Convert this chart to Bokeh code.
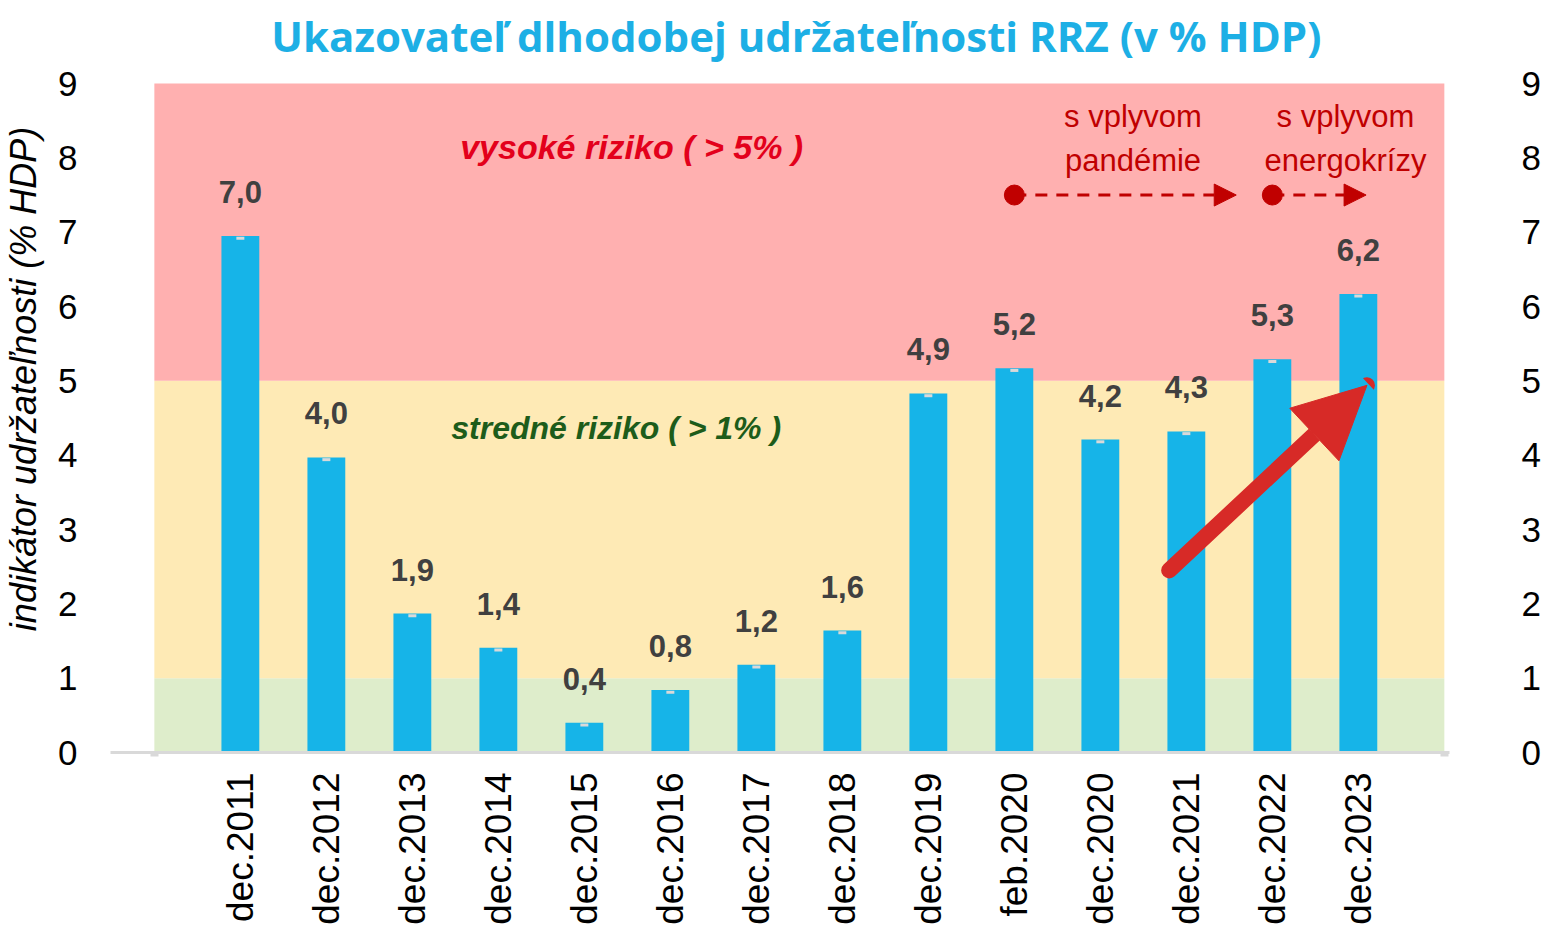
import math
from bokeh.plotting import figure
from bokeh.models import LinearAxis, FixedTicker, Range1d, Arrow, NormalHead
from bokeh.core.properties import value
from bokeh.embed import file_html
from bokeh.resources import INLINE

# ---- data ----
categories = ["dec.2011", "dec.2012", "dec.2013", "dec.2014", "dec.2015", "dec.2016",
              "dec.2017", "dec.2018", "dec.2019", "feb.2020", "dec.2020", "dec.2021",
              "dec.2022", "dec.2023"]
values = [6.95, 3.97, 1.87, 1.41, 0.40, 0.84, 1.18, 1.64, 4.83, 5.17, 4.21, 4.32, 5.29, 6.17]
value_labels = ["7,0", "4,0", "1,9", "1,4", "0,4", "0,8", "1,2", "1,6", "4,9", "5,2",
                "4,2", "4,3", "5,3", "6,2"]
zone_bounds = [0, 1, 5, 9]
zone_colors = ["#DEEDCB", "#FEEAB5", "#FFB0B0"]
y_ticks = list(range(0, 10))

title_text = "Ukazovateľ dlhodobej udržateľnosti RRZ (v % HDP)"
zone_texts = ["vysoké riziko ( > 5% )", "stredné riziko ( > 1% )"]
event_lines = ["s vplyvom", "pandémie", "s vplyvom", "energokrízy"]

xs = list(range(1, len(categories) + 1))
n_slots = len(categories) + 1

FONT = "Liberation Sans"

# frame spans the title area too; zones/ticks stop at 9
p = figure(frame_width=1339, frame_height=747,
           x_range=Range1d(-0.51, 15.06), y_range=Range1d(0, 10.05),
           output_backend="svg", toolbar_location=None,
           min_border_left=110, min_border_right=88, min_border_top=5, min_border_bottom=168)
p.background_fill_color = "white"
p.border_fill_color = "white"
p.outline_line_color = None
p.xgrid.visible = False
p.ygrid.visible = False

# zones
p.quad(left=0, right=n_slots, bottom=zone_bounds[:-1], top=zone_bounds[1:],
       fill_color=zone_colors, line_color=None)

# bars
p.vbar(x=xs, top=values, width=0.44, fill_color="#16B4E8", line_color=None)
p.rect(x=xs, y=[v - 0.03 for v in values], width=8, height=3,
       width_units="screen", height_units="screen", fill_color="#D9D9D9", line_color=None)

# value labels
p.text(x=xs, y=values, text=value_labels, y_offset=-33, text_baseline="bottom",
       text_align="center", text_font=value(FONT), text_font_style="bold",
       text_font_size="31px", text_color="#404040")

# zone texts
p.text(x=[5.55], y=[8.14], text=[zone_texts[0]], text_font=value(FONT),
       text_font_style="bold italic", text_font_size="34px", text_color="#E3001B",
       text_align="center", text_baseline="middle")
p.text(x=[5.37], y=[4.36], text=[zone_texts[1]], text_font=value(FONT),
       text_font_style="bold italic", text_font_size="32px", text_color="#1D5C1A",
       text_align="center", text_baseline="middle")

# event texts
p.text(x=[11.38, 11.38, 13.85, 13.85], y=[8.55, 7.97, 8.55, 7.97], text=event_lines,
       text_font=value(FONT), text_font_size="31px", text_color="#C00000",
       text_align="center", text_baseline="middle")

# dashed event arrows
for xs0, xe in [(10, 12.58), (13, 14.09)]:
    p.add_layout(Arrow(x_start=xs0, y_start=7.5, x_end=xe, y_end=7.5,
                       line_color="#C00000", line_width=3, line_dash="12 9",
                       end=NormalHead(size=22, fill_color="#C00000", line_color="#C00000")))
p.scatter(x=[10, 13], y=[7.5, 7.5], size=20, fill_color="#C00000", line_color="#C00000")

# big trend arrow
p.add_layout(Arrow(x_start=11.8, y_start=2.45, x_end=14.1, y_end=4.94,
                   line_color="#D72A27", line_width=16, line_cap="round",
                   end=NormalHead(size=72, fill_color="#D72A27", line_color="#D72A27")))

# title
p.text(x=[7.465], y=[9.646], text=[title_text], text_align="center",
       text_baseline="middle", text_font=value("Open Sans"), text_font_style="bold",
       text_font_size="42px", text_color="#1DAFE5")

# axes
xa = p.xaxis[0]
xa.ticker = FixedTicker(ticks=xs, minor_ticks=[0, n_slots])
xa.major_label_overrides = {x: c for x, c in zip(xs, categories)}
xa.major_label_orientation = math.pi / 2
xa.major_tick_line_color = None
xa.minor_tick_line_color = "#D9D9D9"
xa.minor_tick_line_width = 8
xa.minor_tick_in = 0
xa.minor_tick_out = 4
xa.axis_line_color = "#D9D9D9"
xa.axis_line_width = 3
xa.major_label_text_font = FONT
xa.major_label_text_font_size = "37px"
xa.major_label_text_color = "black"
xa.major_label_standoff = 14

ya = p.yaxis[0]
ya.ticker = FixedTicker(ticks=y_ticks)
ya.axis_line_color = None
ya.major_tick_line_color = None
ya.minor_tick_line_color = None
ya.major_label_text_font = FONT
ya.major_label_text_font_size = "35px"
ya.major_label_text_color = "black"
ya.major_label_standoff = 27
ya.axis_label = "indikátor udržateľnosti (% HDP)"
ya.axis_label_text_font = FONT
ya.axis_label_text_font_style = "italic"
ya.axis_label_text_font_size = "36px"
ya.axis_label_text_color = "black"
ya.axis_label_standoff = 11

ra = LinearAxis(ticker=FixedTicker(ticks=y_ticks))
ra.axis_line_color = None
ra.major_tick_line_color = None
ra.minor_tick_line_color = None
ra.major_label_text_font = FONT
ra.major_label_text_font_size = "35px"
ra.major_label_text_color = "black"
ra.major_label_standoff = 66
p.add_layout(ra, "right")

open("out.html", "w").write(file_html(p, INLINE))
